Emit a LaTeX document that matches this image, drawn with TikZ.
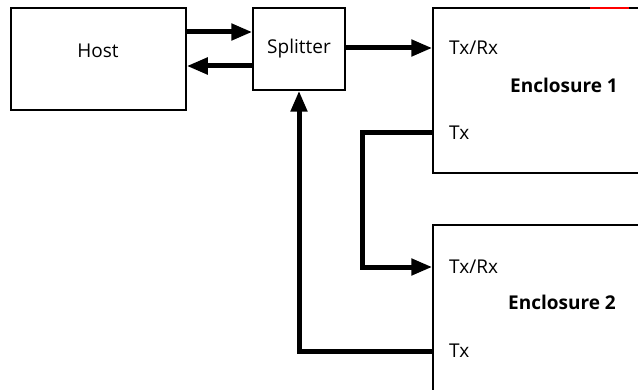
\documentclass[tikz,border=0pt]{standalone}
\usepackage{fontspec}
\setmainfont{Open Sans}
\usepackage{tikz}
\usetikzlibrary{arrows.meta, calc}

\begin{document}
\begin{tikzpicture}[x=1pt, y=1pt, >={Triangle[length=21pt, width=16pt]},
    font=\fontsize{19}{22}\selectfont,
    box/.style={draw, line width=1.5pt, inner sep=0pt},
    link/.style={line width=5pt},
    port/.style={anchor=west, inner sep=0pt}]
    \useasboundingbox (0,0) rectangle (638,389);
    \clip (0,0) rectangle (638,389);
    % boxes
    \node[box, minimum width=175pt, minimum height=102pt] (host) at (98.5,330) {};
    \node (hostname) at (98,338) {Host};
    \node[box, minimum width=92pt, minimum height=82pt] (splitter) at (299,340) {Splitter};
    \node[box, minimum width=260pt, minimum height=165pt] (enc1) at (563,298.5) {};
    \node[box, minimum width=260pt, minimum height=204pt] (enc2) at (563,62) {};
    \node[font=\fontsize{19}{22}\selectfont\bfseries] (enc1name) at (564,304) {Enclosure 1};
    \node[font=\fontsize{19}{22}\selectfont\bfseries] (enc2name) at (562,87) {Enclosure 2};
    \draw[red, line width=1.5pt] (590,381) -- (629,381);
    % ports
    \node[port] (e1rx) at (449,341) {Tx/Rx};
    \node[port] (e1tx) at (449,256) {Tx};
    \node[port] (e2rx) at (449,122) {Tx/Rx};
    \node[port] (e2tx) at (449,38) {Tx};
    % links
    \draw[link, ->] ([yshift=27pt]host.east) -- ([yshift=17pt]splitter.west);
    \draw[link, <-] ([yshift=-7pt]host.east) -- ([yshift=-17pt]splitter.west);
    \draw[link, ->] (splitter.east |- e1rx) -- (enc1.west |- e1rx);
    \draw[link, ->] (enc1.west |- e1tx) -- ++(-70,0) |- (enc2.west |- e2rx);
    \draw[link, ->] (enc2.west |- e2tx) -| (splitter.south);
\end{tikzpicture}
\end{document}
